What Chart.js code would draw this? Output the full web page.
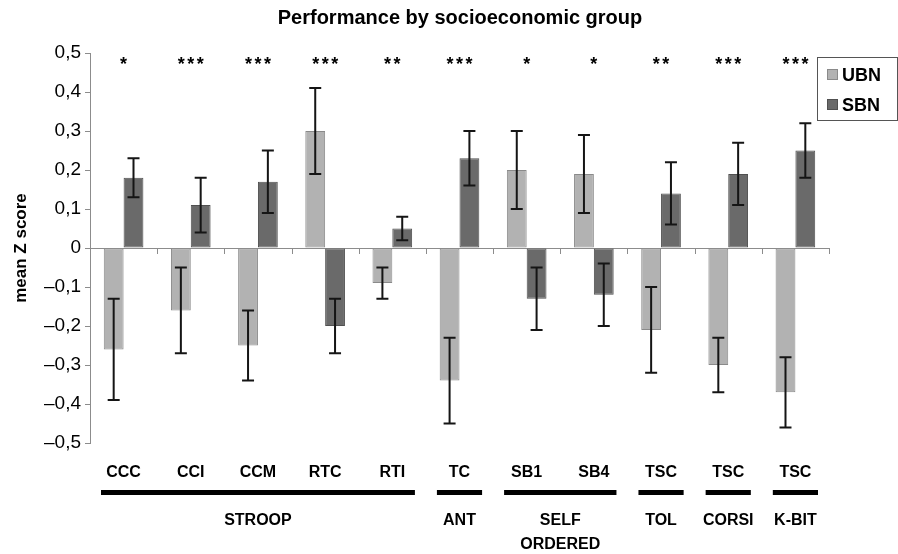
<!DOCTYPE html>
<html><head><meta charset="utf-8">
<script src="https://cdn.jsdelivr.net/npm/chart.js@4.4.1/dist/chart.umd.min.js"></script>
<style>html,body{margin:0;padding:0;background:#fff;}#wrap{width:898px;height:554px;position:relative;}</style>
</head><body><div id="wrap"><canvas id="c" width="898" height="554"></canvas></div>
<script>
const categories = ['CCC','CCI','CCM','RTC','RTI','TC','SB1','SB4','TSC','TSC','TSC'];
const ubnMean = [-0.26,-0.16,-0.25,0.30,-0.09,-0.34,0.20,0.19,-0.21,-0.30,-0.37];
const ubnLow  = [-0.39,-0.27,-0.34,0.19,-0.13,-0.45,0.10,0.09,-0.32,-0.37,-0.46];
const ubnHigh = [-0.13,-0.05,-0.16,0.41,-0.05,-0.23,0.30,0.29,-0.10,-0.23,-0.28];
const sbnMean = [0.18,0.11,0.17,-0.20,0.05,0.23,-0.13,-0.12,0.14,0.19,0.25];
const sbnLow  = [0.13,0.04,0.09,-0.27,0.02,0.16,-0.21,-0.20,0.06,0.11,0.18];
const sbnHigh = [0.23,0.18,0.25,-0.13,0.08,0.30,-0.05,-0.04,0.22,0.27,0.32];
const significance = ['*','***','***','***','**','***','*','*','**','***','***'];
const groupLabels = [['STROOP'],['ANT'],['SELF','ORDERED'],['TOL'],['CORSI'],['K-BIT']];
const groupFirst = [0,5,6,8,9,10];
const groupLast  = [4,5,7,8,9,10];
const titleText = 'Performance by socioeconomic group';
const yTitle = 'mean Z score';

const FAM = "'Liberation Sans', Arial, sans-serif";
const UBN_FILL = '#b2b2b2', UBN_EDGE = '#8a8a8a';
const SBN_FILL = '#6a6a6a', SBN_EDGE = '#505050';

const extras = {
  id: 'extras',
  afterDatasetsDraw(chart) {
    const ctx = chart.ctx, xs = chart.scales.x, ys = chart.scales.y;
    const y0 = ys.getPixelForValue(0);
    ctx.save();
    ctx.strokeStyle = '#8c8c8c'; ctx.lineWidth = 1;
    ctx.beginPath();
    for (let i = 1; i <= categories.length; i++) {
      const px = Math.round(xs.getPixelForValue(i - 0.5)) + 0.5;
      ctx.moveTo(px, y0); ctx.lineTo(px, y0 + 6);
    }
    ctx.stroke();
    ctx.strokeStyle = '#151515'; ctx.lineWidth = 2;
    [[0, ubnLow, ubnHigh], [1, sbnLow, sbnHigh]].forEach(([di, lo, hi]) => {
      chart.getDatasetMeta(di).data.forEach((bar, i) => {
        const x = bar.x, a = ys.getPixelForValue(lo[i]), b = ys.getPixelForValue(hi[i]);
        ctx.beginPath();
        ctx.moveTo(x, a); ctx.lineTo(x, b);
        ctx.moveTo(x - 6, a); ctx.lineTo(x + 6, a);
        ctx.moveTo(x - 6, b); ctx.lineTo(x + 6, b);
        ctx.stroke();
      });
    });
    ctx.restore();
  },
  afterDraw(chart) {
    const ctx = chart.ctx, xs = chart.scales.x;
    const ca = chart.chartArea;
    ctx.save();
    ctx.fillStyle = '#000';
    ctx.font = 'bold 20px ' + FAM;
    ctx.textAlign = 'center'; ctx.textBaseline = 'middle';
    ctx.fillText(titleText, 460, 18);
    ctx.font = 'bold 18px ' + FAM;
    ctx.textBaseline = 'alphabetic';
    significance.forEach((s, i) => {
      const cx = xs.getPixelForValue(i);
      const n = s.length, sp = 9.5;
      for (let k = 0; k < n; k++) {
        ctx.fillText('*', cx + (k - (n - 1) / 2) * sp, ca.top + 17);
      }
    });
    const half = (xs.getPixelForValue(1) - xs.getPixelForValue(0)) / 2;
    groupLabels.forEach((lab, g) => {
      const x1 = xs.getPixelForValue(groupFirst[g]) - half + 11;
      const x2 = xs.getPixelForValue(groupLast[g]) + half - 11;
      ctx.fillStyle = '#000';
      ctx.fillRect(x1, 490, x2 - x1, 5);
      ctx.font = 'bold 16px ' + FAM;
      ctx.textBaseline = 'middle';
      lab.forEach((t, j) => ctx.fillText(t, (x1 + x2) / 2, 521 + j * 24));
    });
    const lx = 817.5, ly = 57.5, lw = 80, lh = 63;
    ctx.strokeStyle = '#555'; ctx.lineWidth = 1;
    ctx.strokeRect(lx, ly, lw, lh);
    chart.data.datasets.forEach((ds, i) => {
      const sy = 69 + i * 30;
      ctx.fillStyle = ds.backgroundColor;
      ctx.fillRect(827, sy, 11, 11);
      ctx.strokeStyle = ds.borderColor;
      ctx.strokeRect(827.5, sy + 0.5, 10, 10);
      ctx.fillStyle = '#000';
      ctx.font = 'bold 18px ' + FAM;
      ctx.textAlign = 'left'; ctx.textBaseline = 'middle';
      ctx.fillText(ds.label, 842, sy + 7);
    });
    ctx.restore();
  }
};

new Chart(document.getElementById('c'), {
  type: 'bar',
  data: {
    labels: categories,
    datasets: [
      { label: 'UBN', data: ubnMean, backgroundColor: UBN_FILL, borderColor: UBN_EDGE, borderWidth: 1, borderSkipped: false },
      { label: 'SBN', data: sbnMean, backgroundColor: SBN_FILL, borderColor: SBN_EDGE, borderWidth: 1, borderSkipped: false }
    ]
  },
  options: {
    responsive: false,
    animation: false,
    layout: { padding: { top: 53, right: 69, bottom: 0, left: 0 } },
    datasets: { bar: { categoryPercentage: 0.59, barPercentage: 1.0 } },
    plugins: { legend: { display: false }, title: { display: false }, tooltip: { enabled: false } },
    scales: {
      x: {
        grid: { display: false },
        border: { display: false },
        ticks: { color: '#000', font: { family: FAM, size: 16, weight: 'bold' }, padding: 12, maxRotation: 0, autoSkip: false },
        afterFit(s) { s.height = 111; }
      },
      y: {
        min: -0.5, max: 0.5,
        ticks: {
          stepSize: 0.1, color: '#000', padding: 4,
          font: { family: FAM, size: 19 },
          callback: v => { const r = Math.round(v * 10) / 10; if (r === 0) return '0'; return (r < 0 ? '–' : '') + Math.abs(r).toFixed(1).replace('.', ','); }
        },
        grid: {
          color: c => (c.tick && Math.abs(c.tick.value) < 1e-9) ? '#8c8c8c' : 'rgba(0,0,0,0)',
          tickColor: '#8c8c8c', tickLength: 5, drawTicks: true
        },
        border: { display: true, color: '#8c8c8c' },
        title: { display: true, text: yTitle, color: '#000', font: { family: FAM, size: 17, weight: 'bold' }, padding: { top: 11, bottom: 0 } },
        afterFit(s) { s.width = 90; }
      }
    }
  },
  plugins: [extras]
});
</script></body></html>
